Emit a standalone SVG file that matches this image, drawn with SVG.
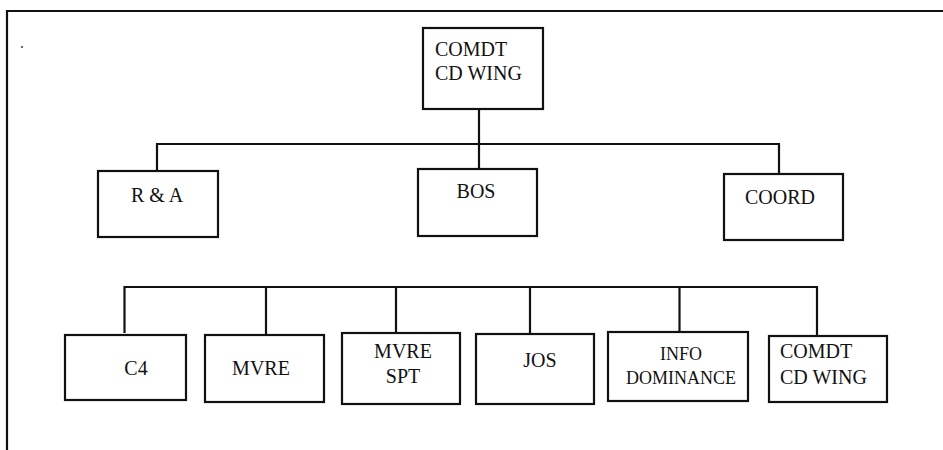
<svg xmlns="http://www.w3.org/2000/svg" width="943" height="450" viewBox="0 0 943 450">
<style>
.box{fill:#fff;stroke:#111;stroke-width:2.2}
.ln{fill:none;stroke:#111;stroke-width:2.2}
.t{font-family:"Liberation Serif","Times New Roman",serif;font-size:20px;fill:#111}
.s{font-size:18px}
</style>
<rect width="943" height="450" fill="#fff"/>
<g id="frame">
<path class="ln" d="M7,450 V11 H943" stroke-width="2.6"/>
<circle cx="22" cy="47" r="1" fill="#333"/>
</g>
<g id="connectors">
<path class="ln" d="M479,109 V169"/>
<path class="ln" d="M157,171 V144 H779 V174"/>
<path class="ln" d="M124.5,333 V287 H817 V336"/>
<path class="ln" d="M266,287 V335"/>
<path class="ln" d="M396,287 V333"/>
<path class="ln" d="M530,287 V334"/>
<path class="ln" d="M679.5,287 V332"/>
</g>
<g id="n_comdt_top">
<rect class="box" x="423" y="28" width="120" height="81"/>
<text class="t" x="435" y="56">COMDT</text>
<text class="t" x="435" y="80">CD WING</text>
</g>
<g id="n_ra">
<rect class="box" x="98" y="171" width="120" height="66"/>
<text class="t" x="157" y="202" text-anchor="middle">R &amp; A</text>
</g>
<g id="n_bos">
<rect class="box" x="418" y="169" width="119" height="67"/>
<text class="t" x="476" y="198" text-anchor="middle">BOS</text>
</g>
<g id="n_coord">
<rect class="box" x="724" y="174" width="119" height="66"/>
<text class="t" x="780" y="204" text-anchor="middle">COORD</text>
</g>
<g id="n_c4">
<rect class="box" x="65" y="335" width="121" height="65"/>
<text class="t" x="136" y="375" text-anchor="middle">C4</text>
</g>
<g id="n_mvre">
<rect class="box" x="205" y="335" width="119" height="67"/>
<text class="t" x="261" y="375" text-anchor="middle">MVRE</text>
</g>
<g id="n_mvre_spt">
<rect class="box" x="342" y="333" width="118" height="71"/>
<text class="t" x="403" y="358" text-anchor="middle">MVRE</text>
<text class="t" x="403" y="383" text-anchor="middle">SPT</text>
</g>
<g id="n_jos">
<rect class="box" x="476" y="334" width="118" height="70"/>
<text class="t" x="540" y="367" text-anchor="middle">JOS</text>
</g>
<g id="n_info">
<rect class="box" x="608" y="332" width="140" height="69"/>
<text class="t s" x="681" y="360" text-anchor="middle">INFO</text>
<text class="t s" x="681" y="384" text-anchor="middle">DOMINANCE</text>
</g>
<g id="n_comdt_bottom">
<rect class="box" x="769" y="336" width="118" height="66"/>
<text class="t" x="780" y="358">COMDT</text>
<text class="t" x="780" y="384">CD WING</text>
</g>
</svg>
